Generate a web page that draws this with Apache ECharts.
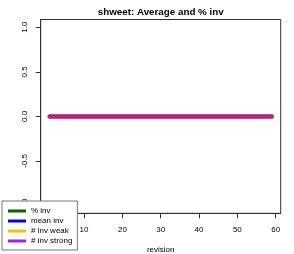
<!DOCTYPE html>
<html><head><meta charset="utf-8">
<script src="https://cdn.jsdelivr.net/npm/echarts@6/dist/echarts.min.js"></script>
<style>html,body{margin:0;padding:0;background:#fff}#c{width:294px;height:254px}</style>
</head><body><div id="c"></div>
<script>
var revisions = [1,2,3,4,5,6,7,8,9,10,11,12,13,14,15,16,17,18,19,20,21,22,23,24,25,26,27,28,29,30,31,32,33,34,35,36,37,38,39,40,41,42,43,44,45,46,47,48,49,50,51,52,53,54,55,56,57,58,59];
var pctInv     = [0,0,0,0,0,0,0,0,0,0,0,0,0,0,0,0,0,0,0,0,0,0,0,0,0,0,0,0,0,0,0,0,0,0,0,0,0,0,0,0,0,0,0,0,0,0,0,0,0,0,0,0,0,0,0,0,0,0,0];
var meanInv    = [0,0,0,0,0,0,0,0,0,0,0,0,0,0,0,0,0,0,0,0,0,0,0,0,0,0,0,0,0,0,0,0,0,0,0,0,0,0,0,0,0,0,0,0,0,0,0,0,0,0,0,0,0,0,0,0,0,0,0];
var invWeak    = [0,0,0,0,0,0,0,0,0,0,0,0,0,0,0,0,0,0,0,0,0,0,0,0,0,0,0,0,0,0,0,0,0,0,0,0,0,0,0,0,0,0,0,0,0,0,0,0,0,0,0,0,0,0,0,0,0,0,0];
var invStrong  = [0,0,0,0,0,0,0,0,0,0,0,0,0,0,0,0,0,0,0,0,0,0,0,0,0,0,0,0,0,0,0,0,0,0,0,0,0,0,0,0,0,0,0,0,0,0,0,0,0,0,0,0,0,0,0,0,0,0,0];
var average    = [0,0,0,0,0,0,0,0,0,0,0,0,0,0,0,0,0,0,0,0,0,0,0,0,0,0,0,0,0,0,0,0,0,0,0,0,0,0,0,0,0,0,0,0,0,0,0,0,0,0,0,0,0,0,0,0,0,0,0];
var xTicks = [0,10,20,30,40,50,60];
var yTicks = [-1,-0.5,0,0.5,1];
var yTickLabels = ['-1.0','-0.5','0.0','0.5','1.0'];

function pairs(ys){ return revisions.map(function(x,i){ return [x, ys[i]]; }); }
var font = 'Liberation Sans, Arial, Helvetica, sans-serif';
function mk(name, ys, color, w, z){
  return {name:name, type:'line', data:pairs(ys), showSymbol:false, symbol:'none', z:z,
    lineStyle:{color:color, width:w, cap:'round'}, itemStyle:{color:color}, animation:false};
}
var chart = echarts.init(document.getElementById('c'), null, {renderer:'canvas'});
chart.setOption({
  animation:false,
  backgroundColor:'#fff',
  graphic:[{type:'text', x:160.7, y:12, z:20,
    style:{text:'shweet: Average and % inv', fontFamily:font, fontSize:9.8, fontWeight:'bold', fill:'#000', align:'center', verticalAlign:'middle'}}],
  grid:{left:40.7, right:13.3, top:19.5, bottom:40.7, show:true, borderColor:'#333', borderWidth:1, backgroundColor:'transparent',
    containLabel:false, outerBoundsMode:'none'},
  xAxis:{type:'value', min:-1.32, max:61.32,
    name:'revision', nameLocation:'middle', nameGap:32,
    nameTextStyle:{fontFamily:font, fontSize:8, color:'#000'},
    axisLine:{show:true, onZero:false, lineStyle:{color:'#333', width:1}}, splitLine:{show:false},
    axisTick:{show:true, length:5, inside:false, lineStyle:{color:'#333', width:1}, customValues:xTicks},
    axisLabel:{show:true, margin:12, fontFamily:font, fontSize:8, color:'#000', customValues:xTicks,
      formatter:function(v){return String(v);}}
  },
  yAxis:{type:'value', min:-1.087, max:1.087,
    axisLine:{show:true, onZero:false, lineStyle:{color:'#333', width:1}}, splitLine:{show:false},
    axisTick:{show:true, length:5, inside:false, lineStyle:{color:'#333', width:1}, customValues:yTicks},
    axisLabel:{show:true, rotate:90, margin:12, fontFamily:font, fontSize:8, color:'#000', customValues:yTicks,
      formatter:function(v){ var i=yTicks.indexOf(v); return i>=0?yTickLabels[i]:''; }}
  },
  legend:{data:['% inv','mean inv','# inv weak','# inv strong'], orient:'vertical', left:2, top:201,
    padding:[5,5,4,6], itemGap:0, itemWidth:18, itemHeight:3, icon:'rect',
    backgroundColor:'#fff', borderColor:'#777', borderWidth:1, z:10,
    textStyle:{fontFamily:font, fontSize:8, color:'#000', lineHeight:10}},
  series:[
    mk('% inv', pctInv, '#006400', 4, 2),
    mk('mean inv', meanInv, '#0000ff', 4, 3),
    mk('# inv weak', invWeak, '#ffb90f', 4, 4),
    mk('# inv strong', invStrong, '#a020f0', 4, 5),
    mk('average', average, '#e0105a', 2, 6)
  ]
});
</script></body></html>
